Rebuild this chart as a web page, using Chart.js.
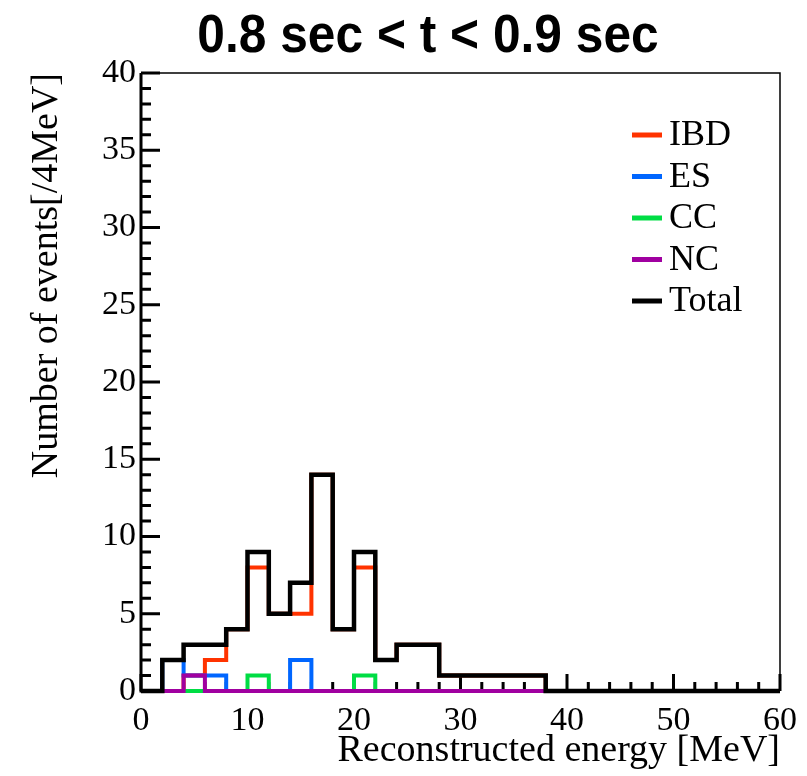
<!DOCTYPE html>
<html>
<head>
<meta charset="utf-8">
<title>0.8 sec &lt; t &lt; 0.9 sec</title>
<script src="https://cdn.jsdelivr.net/npm/chart.js@4.4.0/dist/chart.umd.min.js"></script>
<style>
  html, body { margin: 0; padding: 0; background: #fff; }
  #wrap { width: 807px; height: 776px; }
</style>
</head>
<body>
<div id="wrap"><canvas id="histo" width="807" height="776"></canvas></div>
<script>
// 2 MeV bins from 0 to 60 MeV
const binEdges = [0, 2, 4, 6, 8, 10, 12, 14, 16, 18, 20, 22, 24, 26, 28, 30,
                  32, 34, 36, 38, 40, 42, 44, 46, 48, 50, 52, 54, 56, 58, 60];

// events per bin for each channel
const ibdCounts   = [0, 0, 1, 2, 4, 8, 5, 5, 14, 4, 8, 2, 3, 3, 1, 1, 1, 1, 1, 0, 0, 0, 0, 0, 0, 0, 0, 0, 0, 0];
const esCounts    = [0, 2, 1, 1, 0, 0, 0, 2, 0, 0, 0, 0, 0, 0, 0, 0, 0, 0, 0, 0, 0, 0, 0, 0, 0, 0, 0, 0, 0, 0];
const ccCounts    = [0, 0, 0, 0, 0, 1, 0, 0, 0, 0, 1, 0, 0, 0, 0, 0, 0, 0, 0, 0, 0, 0, 0, 0, 0, 0, 0, 0, 0, 0];
const ncCounts    = [0, 0, 1, 0, 0, 0, 0, 0, 0, 0, 0, 0, 0, 0, 0, 0, 0, 0, 0, 0, 0, 0, 0, 0, 0, 0, 0, 0, 0, 0];
const totalCounts = [0, 2, 3, 3, 4, 9, 5, 7, 14, 4, 9, 2, 3, 3, 1, 1, 1, 1, 1, 0, 0, 0, 0, 0, 0, 0, 0, 0, 0, 0];

const xTicks = [0, 10, 20, 30, 40, 50, 60];
const yTicks = [0, 5, 10, 15, 20, 25, 30, 35, 40];

const plotTitle = "0.8 sec < t < 0.9 sec";
const xTitle = "Reconstructed energy [MeV]";
const yTitle = "Number of events[/4MeV]";

const serif = "'Liberation Serif', 'Times New Roman', serif";

// turn bin contents into a step outline (two corners per bin)
function histPoints(counts) {
  const pts = [];
  counts.forEach((v, i) => {
    pts.push({ x: binEdges[i], y: v });
    pts.push({ x: binEdges[i + 1], y: v });
  });
  return pts;
}

function histDataset(label, counts, color, width, order) {
  return {
    label: label,
    data: histPoints(counts),
    borderColor: color,
    backgroundColor: color,
    borderWidth: width,
    pointRadius: 0,
    tension: 0,
    fill: false,
    clip: 6,
    borderJoinStyle: "miter",
    borderCapStyle: "butt",
    order: order,
  };
}

// frame and inward ticks go under the histograms,
// title and in-plot legend on top
const rootStyle = {
  id: "rootStyle",
  beforeDatasetsDraw(chart) {
    const ctx = chart.ctx;
    const xs = chart.scales.x, ys = chart.scales.y;
    const a = chart.chartArea;
    ctx.save();
    ctx.strokeStyle = "#000";

    // thin top/right frame
    ctx.lineWidth = 1.5;
    ctx.beginPath();
    ctx.moveTo(a.left, a.top);
    ctx.lineTo(a.right, a.top);
    ctx.lineTo(a.right, a.bottom);
    ctx.stroke();

    ctx.lineWidth = 3;
    ctx.beginPath();
    for (let v = 0; v <= 40; v++) {
      const py = ys.getPixelForValue(v);
      const len = v % 5 === 0 ? 19 : 10;
      ctx.moveTo(a.left, py);
      ctx.lineTo(a.left + len, py);
    }
    for (let v = 0; v <= 60; v += 2) {
      const px = xs.getPixelForValue(v);
      const len = v % 10 === 0 ? 17 : 9;
      ctx.moveTo(px, a.bottom);
      ctx.lineTo(px, a.bottom - len);
    }
    ctx.stroke();

    // thick axes
    ctx.beginPath();
    ctx.moveTo(a.left, a.top);
    ctx.lineTo(a.left, a.bottom);
    ctx.lineTo(a.right, a.bottom);
    ctx.stroke();
    ctx.restore();
  },
  afterDraw(chart) {
    const ctx = chart.ctx;
    ctx.save();

    // title, slightly condensed
    ctx.fillStyle = "#000";
    ctx.font = "bold 54px 'Liberation Sans', Arial, sans-serif";
    ctx.textAlign = "center";
    ctx.textBaseline = "middle";
    ctx.translate(428, 37);
    ctx.scale(0.92, 1);
    ctx.fillText(plotTitle, 0, 0);
    ctx.setTransform(1, 0, 0, 1, 0, 0);

    // legend
    ctx.font = "36px " + serif;
    ctx.textAlign = "left";
    chart.data.datasets.forEach((ds, i) => {
      const ly = 135 + i * 41.5;
      ctx.strokeStyle = ds.borderColor;
      ctx.lineWidth = 5;
      ctx.beginPath();
      ctx.moveTo(632, ly);
      ctx.lineTo(662, ly);
      ctx.stroke();
      ctx.fillText(ds.label, 669, ly + 1);
    });
    ctx.restore();
  },
};

new Chart(document.getElementById("histo").getContext("2d"), {
  type: "line",
  data: {
    datasets: [
      histDataset("IBD", ibdCounts, "#ff3300", 4, 5),
      histDataset("ES", esCounts, "#0066ff", 4, 4),
      histDataset("CC", ccCounts, "#00dd44", 4, 3),
      histDataset("NC", ncCounts, "#a000a0", 4, 2),
      histDataset("Total", totalCounts, "#000000", 4.5, 1),
    ],
  },
  options: {
    responsive: false,
    animation: false,
    devicePixelRatio: 1,
    layout: { padding: { left: 0, top: 73, right: 25, bottom: 0 } },
    plugins: {
      legend: { display: false },
      tooltip: { enabled: false },
    },
    scales: {
      x: {
        type: "linear",
        min: 0,
        max: 60,
        afterBuildTicks: (s) => { s.ticks = xTicks.map((v) => ({ value: v })); },
        afterFit: (s) => { s.height = 85; },
        grid: { display: false, drawTicks: false },
        border: { display: false },
        ticks: { color: "#000", font: { family: serif, size: 34 }, padding: 10, maxRotation: 0 },
        title: {
          display: true,
          text: xTitle,
          align: "end",
          color: "#000",
          font: { family: serif, size: 38 },
          padding: { top: 0, bottom: 2 },
        },
      },
      y: {
        type: "linear",
        min: 0,
        max: 40,
        afterBuildTicks: (s) => { s.ticks = yTicks.map((v) => ({ value: v })); },
        afterFit: (s) => { s.width = 141; },
        grid: { display: false, drawTicks: false },
        border: { display: false },
        ticks: { color: "#000", font: { family: serif, size: 34 }, padding: 5 },
        title: {
          display: true,
          text: yTitle,
          align: "end",
          color: "#000",
          font: { family: serif, size: 38 },
          padding: { top: 24, bottom: 0 },
        },
      },
    },
  },
  plugins: [rootStyle],
});
</script>
</body>
</html>
